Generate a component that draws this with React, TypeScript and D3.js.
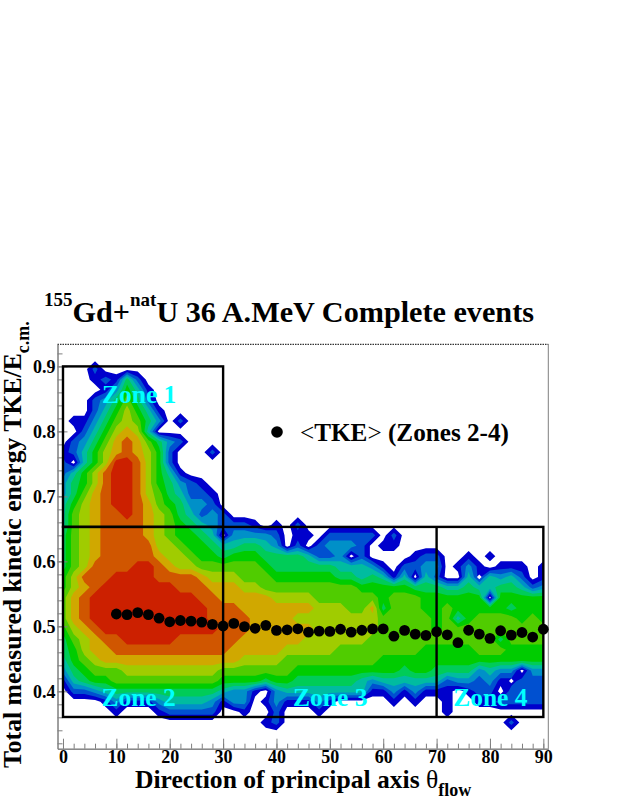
import React, { useEffect, useRef } from 'react'
import * as d3 from 'd3'

// contour level per bin, 0 = empty, hex digit up to b. top row first, x = 0,2,...,90
const levelRows = [
  '0000000000 0000000000 0000000000 0000000000 000000',
  '0002000000 0000000000 0000000000 0000000000 000000',
  '0001215200 0000000000 0000000000 0000000000 000000',
  '0000136410 0000000000 0000000000 0000000000 000000',
  '0002357520 0000000000 0000000000 0000000000 000000',
  '0002468641 0000000000 0000000000 0000000000 000000',
  '0113578753 0200000000 0000000000 0000000000 000000',
  '0024689840 0000000000 0000000000 0000000000 000000',
  '023579a975 3200000000 0000000000 0000000000 000000',
  '124689a986 2000200000 0000000000 0000000000 000000',
  '20468bba86 2000000000 0000000000 0000000000 000000',
  '2468abba86 4100000000 0000000000 0000000000 000000',
  '3568abba86 5321000000 0000000000 0000000000 000000',
  '3579abba87 5422100000 0000000000 0000000000 000000',
  '4689abba97 6533200000 0000000000 0000000000 000000',
  '4789aaba98 7542320000 0000000000 0000000000 000000',
  '4789aaaa98 7654322210 1020000000 0000000000 000000',
  '5789aaaa98 7665403333 2011022222 0200000000 000000',
  '5789aaaaa8 8766544554 3020233320 1100000000 000000',
  '5789aaaaa9 8876656665 5554223020 0001220010 100000',
  '578aaaabba 9887777776 5555554443 1022330131 011101',
  '68aaabbbba aaa9888777 6666665545 4140420041 434201',
  '689abbbbbb baaa999887 7777777766 6665554454 455423',
  '79abbbbbbb bbbaa99999 8888777777 6777666666 066666',
  '79abbbbbbb bbbbaaa999 9999888779 5777667666 665666',
  '79abbbbbbb bbbbaaaa99 9988888888 7777767467 777676',
  '689abbbbbb bbbbbaaa99 9999888888 7777767777 777777',
  '5789aabbbb baaaaaa999 9998888887 7777777777 757777',
  '56899aaaaa aaaaaa9999 9888887777 7777666667 776666',
  '4678999999 9999999888 8777777777 6666666666 666666',
  '3567778888 8888877777 7766666666 6656655553 433033',
  '1456677777 7777766665 6655555543 4444442332 311222',
  '0223455555 5555543310 3444444441 1313111012 202222',
  '0000131113 4444313301 3111310000 0101001001 122222',
  '0000010001 2222200100 2000100000 0000001000 000000',
  '0000000000 0000000001 2000000000 0000000000 002000',
  '0000000000 0000000000 0000000000 0000000000 000000',
]
const levelColors = ['#0000cc', '#0050d0', '#0090c8', '#00bca0', '#00cc58', '#00cc00', '#50cc00', '#a0cc00', '#d0a800', '#d05600', '#cc2000']

// empty bins that touch another empty bin corner to corner, contours would merge them
const emptyBinX = [78, 84]
const emptyBinY = [0.576, 0.416]

const meanAngles = [10, 12, 14, 16, 18, 20, 22, 24, 26, 28, 30, 32, 34, 36, 38, 40, 42, 44, 46, 48, 50, 52, 54, 56, 58, 60, 62, 64, 66, 68, 70, 72, 74, 76, 78, 80, 82, 84, 86, 88, 90]
const meanTke = [0.519, 0.518, 0.521, 0.518, 0.5125, 0.507, 0.509, 0.508, 0.5065, 0.503, 0.5005, 0.5045, 0.4995, 0.497, 0.5015, 0.4937, 0.4947, 0.4962, 0.491, 0.4927, 0.4922, 0.4955, 0.491, 0.494, 0.496, 0.496, 0.4848, 0.4937, 0.488, 0.486, 0.4917, 0.487, 0.4748, 0.494, 0.488, 0.4815, 0.4932, 0.4865, 0.4905, 0.4835, 0.4955]

const zoneEdgesX = [0, 30, 70, 90]
const zoneEdgesY = [0.3605, 0.653, 0.9]
const zoneLabels = ['Zone 1', 'Zone 2', 'Zone 3', 'Zone 4']
const zoneLabelX = [7.3, 7.2, 43.1, 73.1]
const zoneLabelY = [0.844, 0.3775, 0.3775, 0.3775]

const xTicks = [0, 10, 20, 30, 40, 50, 60, 70, 80, 90]
const yTicks = [0.4, 0.5, 0.6, 0.7, 0.8, 0.9]
const xMinorTicks = d3.range(0, 91, 2)
const yMinorTicks = d3.range(16, 47).map(i => i * 0.02)

const FONT = '"Liberation Serif", "Times New Roman", serif'

export default function App() {
  const ref = useRef<SVGSVGElement>(null)

  useEffect(() => {
    const svg = d3.select(ref.current)
    svg.selectAll('*').remove()

    const left = 57.5, right = 548.3, top = 344.3, bottom = 748.7
    const x = d3.scaleLinear().domain([-1.03, 90.93]).range([left, right])
    const y = d3.scaleLinear().domain([0.3117, 0.934]).range([bottom, top])

    // heat map: grid nodes are 2 deg by 0.016 apart, clip the half cell d3 adds at the border
    const rows = levelRows.map(r => r.replace(/ /g, ''))
    const nx = rows[0].length, ny = rows.length
    const values = rows.flatMap(r => r.split('').map(c => parseInt(c, 16)))
    const thresholds = levelColors.map((_, i) => i + 0.5)
    const contours = d3.contours().size([nx, ny]).thresholds(thresholds)(values)
    const yTop = 0.352 + 35 * 0.016
    const project = d3.geoTransform({
      point(px: number, py: number) {
        this.stream.point(x((px - 0.5) * 2), y(yTop - (py - 0.5) * 0.016))
      },
    })
    const path = d3.geoPath(project)

    svg.append('clipPath').attr('id', 'heat-clip').append('rect')
      .attr('x', x(0)).attr('width', x(90) - x(0))
      .attr('y', top).attr('height', bottom - top)

    svg.append('g').attr('clip-path', 'url(#heat-clip)')
      .selectAll('path').data(contours).enter().append('path')
      .attr('d', d => path(d))
      .attr('fill', (_, i) => levelColors[i])

    svg.append('g').selectAll('path').data(emptyBinX).enter().append('path')
      .attr('d', d3.symbol(d3.symbolDiamond2, 14))
      .attr('transform', (d, i) => `translate(${x(d)},${y(emptyBinY[i])})`)
      .attr('fill', '#fff')

    // frame and axes
    const gray = '#7f7f7f'
    svg.append('line').attr('x1', right).attr('x2', right).attr('y1', top).attr('y2', bottom).attr('stroke', gray)
    svg.append('line').attr('x1', left).attr('x2', right).attr('y1', top).attr('y2', top)
      .attr('stroke', '#000').attr('stroke-dasharray', '1.5 1')

    const styleAxis = g => {
      g.attr('font-family', FONT).attr('font-size', 18).attr('font-weight', 'bold')
      g.selectAll('line,path').attr('stroke', gray)
      g.selectAll('text').attr('fill', '#000')
    }
    const minorAxis = g => g.call(styleAxis).selectAll('text').remove()
    svg.append('g').attr('transform', `translate(0,${bottom})`)
      .call(d3.axisBottom(x).tickValues(xMinorTicks).tickSize(-5).tickSizeOuter(0))
      .call(minorAxis)
    svg.append('g').attr('transform', `translate(0,${bottom})`)
      .call(d3.axisBottom(x).tickValues(xTicks).tickSize(-10).tickSizeOuter(0).tickPadding(2))
      .call(styleAxis)
    svg.append('g').attr('transform', `translate(${left},0)`)
      .call(d3.axisLeft(y).tickValues(yMinorTicks).tickSize(-5).tickSizeOuter(0))
      .call(minorAxis)
    svg.append('g').attr('transform', `translate(${left},0)`)
      .call(d3.axisLeft(y).tickValues(yTicks).tickSize(-10).tickSizeOuter(0).tickPadding(2).tickFormat(d3.format('.1f')))
      .call(styleAxis)

    // zone boxes
    const box = svg.append('g').attr('fill', 'none').attr('stroke', '#000').attr('stroke-width', 2.4)
    box.append('rect').attr('x', x(zoneEdgesX[0])).attr('y', y(zoneEdgesY[2]))
      .attr('width', x(zoneEdgesX[1]) - x(zoneEdgesX[0])).attr('height', y(zoneEdgesY[1]) - y(zoneEdgesY[2]))
    box.append('rect').attr('x', x(zoneEdgesX[0])).attr('y', y(zoneEdgesY[1]))
      .attr('width', x(zoneEdgesX[3]) - x(zoneEdgesX[0])).attr('height', y(zoneEdgesY[0]) - y(zoneEdgesY[1]))
    zoneEdgesX.slice(1, 3).forEach(v => {
      box.append('line').attr('x1', x(v)).attr('x2', x(v)).attr('y1', y(zoneEdgesY[1])).attr('y2', y(zoneEdgesY[0]))
    })

    // mean TKE points
    svg.append('g').selectAll('circle').data(meanAngles).enter().append('circle')
      .attr('cx', d => x(d)).attr('cy', (_, i) => y(meanTke[i])).attr('r', 5.4).attr('fill', '#000')

    // zone names
    svg.append('g').attr('font-family', FONT).attr('font-weight', 'bold').attr('font-size', 25.5).attr('fill', '#00ffff')
      .selectAll('text').data(zoneLabels).enter().append('text')
      .attr('x', (_, i) => x(zoneLabelX[i])).attr('y', (_, i) => y(zoneLabelY[i]))
      .text(d => d)

    // legend
    svg.append('circle').attr('cx', 277).attr('cy', 432).attr('r', 5.8).attr('fill', '#000')
    const legend = svg.append('text').attr('x', 300).attr('y', 441).attr('font-family', FONT)
      .attr('font-size', 25.2).attr('font-weight', 'bold')
    legend.append('tspan').attr('font-weight', 'normal').text('<')
    legend.append('tspan').text('TKE')
    legend.append('tspan').attr('font-weight', 'normal').text('>')
    legend.append('tspan').text(' (Zones 2-4)')

    // title
    const title = svg.append('text').attr('x', 44).attr('y', 321.5).attr('font-family', FONT)
      .attr('font-size', 30.2).attr('font-weight', 'bold')
    title.append('tspan').attr('font-size', 19).attr('dy', -16).text('155')
    title.append('tspan').attr('dy', 16).text('Gd+')
    title.append('tspan').attr('font-size', 19).attr('dy', -16).text('nat')
    title.append('tspan').attr('dy', 16).text('U 36 A.MeV Complete events')

    // x label
    const xLabel = svg.append('text').attr('x', 135).attr('y', 788).attr('font-family', FONT)
      .attr('font-size', 25.6).attr('font-weight', 'bold')
    xLabel.append('tspan').text('Direction of principal axis ')
    xLabel.append('tspan').attr('font-weight', 'normal').text('θ')
    xLabel.append('tspan').attr('font-size', 18).attr('dy', 8).text('flow')

    // y label
    const yLabel = svg.append('text').attr('transform', 'translate(21,768) rotate(-90)')
      .attr('font-family', FONT).attr('font-size', 25.7).attr('font-weight', 'bold')
    yLabel.append('tspan').text('Total measured kinetic energy TKE/E')
    yLabel.append('tspan').attr('font-size', 18).attr('dy', 8).text('c.m.')
  }, [])

  return <svg ref={ref} width={623} height={806} style={{ position: 'absolute', left: 0, top: 0, background: '#fff' }} />
}
